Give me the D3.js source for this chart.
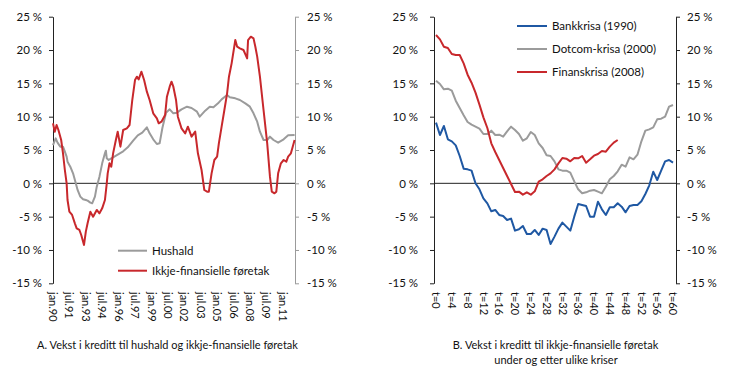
<!DOCTYPE html>
<html>
<head>
<meta charset="utf-8">
<script src="https://cdn.jsdelivr.net/npm/d3@7"></script>
<style>
  body { margin: 0; background: #fff; }
  svg text { font-family: Lato, "Open Sans", sans-serif; fill: #111; }
</style>
</head>
<body>
<svg width="730" height="379"></svg>
<script>
// ---- data ----
var yTicks = [-15, -10, -5, 0, 5, 10, 15, 20, 25];

// panel A: 12-month growth, per cent
var hushald = [
  ["1990-01",5.75],["1990-04",6.75],["1990-06",6.1],["1990-09",5.5],["1990-12",5.5],
  ["1991-02",4.75],["1991-04",4.0],["1991-05",3.25],["1991-08",2.5],["1991-11",1.5],
  ["1992-02",0],["1992-04",-1.0],["1992-07",-2.0],["1992-10",-2.4],["1993-01",-2.5],
  ["1993-03",-2.6],["1993-06",-2.9],["1993-08",-3.0],["1993-11",-2.0],["1994-01",-0.5],
  ["1994-04",1.0],["1994-07",3.0],["1994-10",4.5],["1994-11",4.9],["1994-12",3.75],
  ["1995-02",3.5],["1995-05",3.75],["1995-07",3.9],["1995-12",4.3],["1996-06",4.8],
  ["1996-11",5.4],["1997-05",6.4],["1997-10",7.2],["1998-03",7.6],["1998-08",8.4],
  ["1998-11",7.5],["1999-03",6.6],["1999-07",5.9],["1999-10",6.0],["2000-01",8.3],
  ["2000-05",10.6],["2000-09",11.1],["2001-01",10.5],["2001-05",10.6],["2001-10",11.1],
  ["2002-04",11.5],["2002-09",11.3],["2003-03",10.75],["2003-06",10.0],["2003-12",10.9],
  ["2004-05",11.5],["2004-09",11.4],["2005-02",12.0],["2005-06",12.6],["2005-12",13.25],
  ["2006-03",12.9],["2006-09",12.75],["2007-02",12.5],["2007-08",12.0],["2008-01",11.5],
  ["2008-05",10.5],["2008-09",9.25],["2008-12",7.75],["2009-04",6.5],["2009-08",6.5],
  ["2009-11",7.0],["2010-03",6.5],["2010-08",6.1],["2011-02",6.6],["2011-07",7.2],
  ["2012-02",7.25]
];
var foretak = [
  ["1990-01",9.0],["1990-03",7.75],["1990-05",8.75],["1990-07",8.0],["1990-10",6.5],
  ["1990-12",4.5],["1991-02",2.0],["1991-04",0],["1991-05",-2.5],["1991-07",-4.25],
  ["1991-10",-4.75],["1992-01",-6.0],["1992-03",-6.75],["1992-06",-7.0],["1992-08",-7.75],
  ["1992-11",-9.25],["1993-01",-7.25],["1993-03",-6.0],["1993-06",-4.25],["1993-09",-5.0],
  ["1994-01",-4.0],["1994-04",-4.5],["1994-07",-3.75],["1994-10",-2.5],["1994-12",0],
  ["1995-01",1.5],["1995-03",3.0],["1995-05",2.5],["1995-07",4.5],["1995-10",6.5],
  ["1995-12",7.75],["1996-03",5.5],["1996-06",8.0],["1996-10",8.25],["1997-01",8.75],
  ["1997-04",12.5],["1997-07",15.5],["1997-09",16.0],["1997-11",15.6],["1998-02",16.75],
  ["1998-05",15.5],["1998-08",13.75],["1998-11",12.5],["1999-03",10.5],["1999-07",9.75],
  ["1999-09",9.0],["1999-12",9.25],["2000-04",10.25],["2000-06",13.0],["2000-09",14.5],
  ["2000-11",15.25],["2001-01",14.5],["2001-04",12.5],["2001-06",10.0],["2001-10",8.25],
  ["2002-02",7.5],["2002-05",8.5],["2002-09",7.0],["2003-01",7.75],["2003-04",4.5],
  ["2003-08",2.0],["2003-11",-1.0],["2004-02",-1.25],["2004-04",-1.25],["2004-07",1.5],
  ["2004-10",3.5],["2005-01",4.0],["2005-03",6.0],["2005-06",8.5],["2005-09",11.0],
  ["2005-12",13.5],["2006-02",16.0],["2006-05",18.0],["2006-09",21.5],["2006-11",20.5],
  ["2007-02",20.25],["2007-06",20.0],["2007-10",18.75],["2007-11",21.5],["2008-02",22.0],
  ["2008-05",21.75],["2008-07",20.5],["2008-09",19.0],["2008-12",16.0],["2009-04",11.0],
  ["2009-08",6.0],["2009-11",1.0],["2010-01",-1.25],["2010-04",-1.5],["2010-06",-1.25],
  ["2010-08",1.5],["2010-11",3.0],["2011-02",3.5],["2011-05",3.25],["2011-07",4.0],
  ["2011-10",4.5],["2011-12",5.5],["2012-02",6.5]
];
var dateTicks = ["1990-01","1991-07","1993-01","1994-07","1996-01","1997-07","1999-01",
  "2000-07","2002-01","2003-07","2005-01","2006-07","2008-01","2009-07","2011-01"];

// panel B: months after start of crisis (t=0 ...)
var bankkrisa = [9.1,7.25,8.6,6.6,6.3,5.7,4.1,2.2,2.1,1.9,0.0,-0.9,-2.25,-3.0,-4.2,-4.0,
  -4.75,-4.9,-5.5,-5.3,-7.1,-6.9,-6.4,-7.6,-7.6,-7.0,-7.75,-6.8,-7.0,-9.1,-8.0,-6.8,-5.9,
  -6.5,-7.1,-5.0,-3.1,-3.25,-3.4,-5.0,-5.0,-2.75,-3.9,-4.75,-3.6,-3.6,-3.0,-3.5,-4.35,
  -3.4,-3.25,-3.25,-2.7,-1.6,-0.3,1.75,0.5,1.9,3.3,3.5,3.1];
var dotcomkrisa = [15.4,14.9,14.1,14.2,13.9,12.4,11.3,10.2,9.2,8.8,8.5,8.2,7.4,7.4,7.9,
  7.25,7.3,7.0,7.8,8.5,8.0,7.4,6.4,6.75,7.7,7.25,6.0,5.3,4.2,4.1,3.3,2.1,1.9,1.9,1.6,0.3,
  -0.9,-1.5,-1.35,-1.1,-1.0,-1.25,-1.5,-0.5,0.6,1.1,1.8,2.8,2.5,3.9,3.6,4.3,6.3,7.9,8.1,
  8.4,9.6,9.7,10.0,11.5,11.75];
var finanskrisa = [22.25,21.6,20.5,20.3,19.4,19.25,19.25,18.0,16.3,15.1,13.6,11.8,9.9,
  8.3,6.0,4.7,3.5,2.3,1.1,-0.1,-1.3,-1.25,-1.7,-1.35,-1.7,-1.2,0.25,0.6,1.1,1.5,2.1,3.0,
  3.8,3.7,3.3,3.8,3.75,4.1,3.1,3.6,4.15,4.4,4.85,4.75,5.5,6.1,6.5];
var tTicks = [0,4,8,12,16,20,24,28,32,36,40,44,48,52,56,60];

var red = "#c8282c", grey = "#9b9b9b", blue = "#1f58a3";

var svg = d3.select("svg");
var parseMonth = d3.timeParse("%Y-%m");
var no = d3.timeFormatLocale({
  dateTime: "%A %e. %B %Y kl. %X", date: "%d.%m.%Y", time: "%H:%M:%S",
  periods: ["AM", "PM"],
  days: ["søndag","mandag","tysdag","onsdag","torsdag","fredag","laurdag"],
  shortDays: ["sø","ma","ty","on","to","fr","la"],
  months: ["januar","februar","mars","april","mai","juni","juli","august","september","oktober","november","desember"],
  shortMonths: ["jan","feb","mar","apr","mai","jun","jul","aug","sep","okt","nov","des"]
});
var fmtTick = no.format("%b.%y");

var y = d3.scaleLinear().domain([-15, 25]).range([283.3, 16.7]);
var pct = function(d) { return d + " %"; };

// ---- panel A ----
var xA = d3.scaleTime()
  .domain([parseMonth("1990-01"), new Date(2012, 1, 15)])
  .range([53, 295]);

function drawYAxes(g, left, right, padL, padR, rightColor) {
  var aL = g.append("g").attr("transform", "translate(" + left + ",0)")
    .call(d3.axisLeft(y).tickValues(yTicks).tickSize(4).tickSizeOuter(0)
      .tickPadding(padL).tickFormat(pct));
  var aR = g.append("g").attr("transform", "translate(" + right + ",0)")
    .call(d3.axisRight(y).tickValues(yTicks).tickSize(4).tickSizeOuter(0)
      .tickPadding(padR).tickFormat(pct));
  [aL, aR].forEach(function(a) {
    a.selectAll("text").style("font-size", "11.5px");
  });
  aL.select(".domain").attr("stroke", "#222");
  aL.selectAll(".tick line").attr("stroke", "#222");
  aR.select(".domain").attr("stroke", rightColor);
  aR.selectAll(".tick line").attr("stroke", rightColor);
  g.append("line")
    .attr("x1", left).attr("x2", right)
    .attr("y1", y(0)).attr("y2", y(0))
    .attr("stroke", "#222").attr("stroke-width", 1);
}

var gA = svg.append("g");
drawYAxes(gA, 53, 295, 7, 8, grey);

gA.selectAll(".xlab")
  .data(dateTicks.map(parseMonth))
  .enter().append("text")
  .attr("class", "xlab")
  .attr("transform", function(d) { return "translate(" + xA(d) + ",292) rotate(90)"; })
  .attr("dy", "0.35em")
  .style("font-size", "11px")
  .text(fmtTick);

var lineA = d3.line()
  .x(function(d) { return xA(parseMonth(d[0])); })
  .y(function(d) { return y(d[1]); });

gA.append("path").datum(hushald)
  .attr("d", lineA).attr("fill", "none")
  .attr("stroke", grey).attr("stroke-width", 2).attr("stroke-linejoin", "round");
gA.append("path").datum(foretak)
  .attr("d", lineA).attr("fill", "none")
  .attr("stroke", red).attr("stroke-width", 2).attr("stroke-linejoin", "round");

var legA = [["Hushald", grey], ["Ikkje-finansielle føretak", red]];
legA.forEach(function(l, i) {
  var ly = 250.7 + i * 20;
  gA.append("line").attr("x1", 118).attr("x2", 147).attr("y1", ly).attr("y2", ly)
    .attr("stroke", l[1]).attr("stroke-width", 2);
  gA.append("text").attr("x", 152).attr("y", ly).attr("dy", "0.35em")
    .style("font-size", "11.5px").text(l[0]);
});

gA.append("text").attr("x", 167.5).attr("y", 349).attr("text-anchor", "middle")
  .style("font-size", "11px")
  .text("A. Vekst i kreditt til hushald og ikkje-finansielle føretak");

// ---- panel B ----
var xB = d3.scaleLinear().domain([0, 60]).range([436, 673]);
var gB = svg.append("g");
drawYAxes(gB, 434, 676, 12, 7, "#222");

gB.selectAll(".xlab")
  .data(tTicks)
  .enter().append("text")
  .attr("class", "xlab")
  .attr("transform", function(d) { return "translate(" + xB(d) + ",292) rotate(90)"; })
  .attr("dy", "0.35em")
  .style("font-size", "11px")
  .text(function(d) { return "t=" + d; });

var lineB = d3.line()
  .x(function(d, i) { return xB(i); })
  .y(function(d) { return y(d); });

[[dotcomkrisa, grey], [bankkrisa, blue], [finanskrisa, red]].forEach(function(s) {
  gB.append("path").datum(s[0])
    .attr("d", lineB).attr("fill", "none")
    .attr("stroke", s[1]).attr("stroke-width", 2).attr("stroke-linejoin", "round");
});

var legB = [["Bankkrisa (1990)", blue], ["Dotcom-krisa (2000)", grey], ["Finanskrisa (2008)", red]];
legB.forEach(function(l, i) {
  var ly = 26 + i * 23;
  gB.append("line").attr("x1", 517).attr("x2", 547).attr("y1", ly).attr("y2", ly)
    .attr("stroke", l[1]).attr("stroke-width", 2);
  gB.append("text").attr("x", 552).attr("y", ly).attr("dy", "0.35em")
    .style("font-size", "11.5px").text(l[0]);
});

gB.append("text").attr("x", 555.5).attr("y", 349).attr("text-anchor", "middle")
  .style("font-size", "11px")
  .text("B. Vekst i kreditt til ikkje-finansielle føretak");
gB.append("text").attr("x", 556).attr("y", 364).attr("text-anchor", "middle")
  .style("font-size", "11px")
  .text("under og etter ulike kriser");
</script>
</body>
</html>
